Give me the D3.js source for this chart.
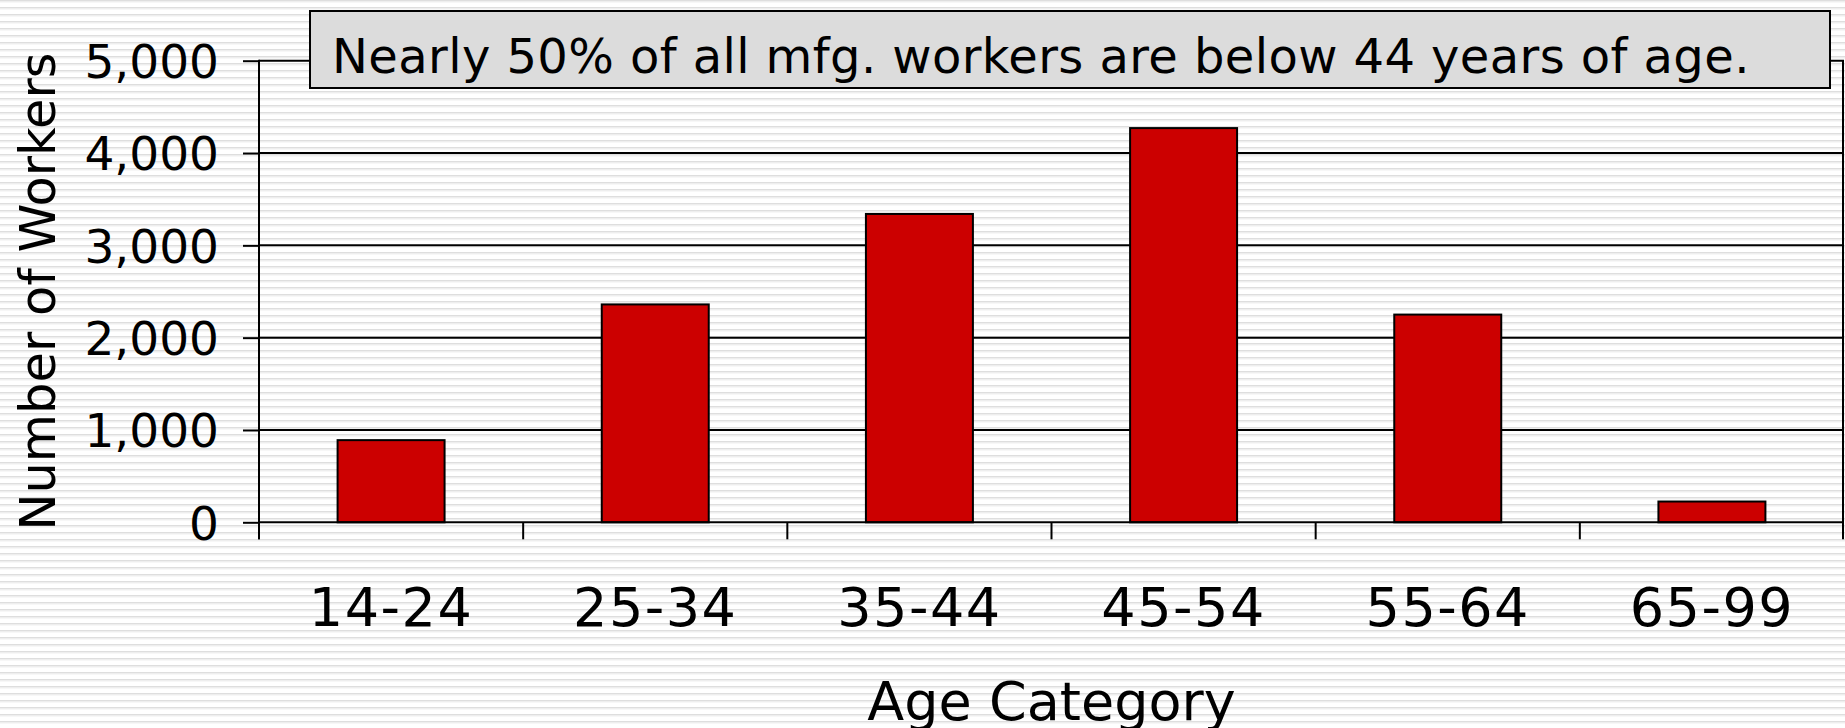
<!DOCTYPE html>
<html>
<head>
<meta charset="utf-8">
<script src="https://cdn.jsdelivr.net/npm/d3@7"></script>
<style>
  body { margin: 0; background: #fff; }
  svg { display: block; font-family: "DejaVu Sans", Verdana, sans-serif; }
</style>
</head>
<body>
<script>
// age groups and head counts
let categories = ["14-24", "25-34", "35-44", "45-54", "55-64", "65-99"];
let workers = [890, 2360, 3340, 4270, 2250, 225];
let yTicks = [0, 1000, 2000, 3000, 4000, 5000];
let note = "Nearly 50% of all mfg. workers are below 44 years of age.";

let W = 1845, H = 728;
let plotLeft = 259, plotRight = 1844, plotTop = 60.7, plotBottom = 522.3;

let svg = d3.select("body").append("svg")
    .attr("width", W)
    .attr("height", H);

// striped slide background
let pat = svg.append("defs").append("pattern")
    .attr("id", "stripes")
    .attr("patternUnits", "userSpaceOnUse")
    .attr("width", 8)
    .attr("height", 7);
pat.append("rect").attr("width", 8).attr("height", 7).attr("fill", "#ffffff");
pat.append("rect").attr("y", 0).attr("width", 8).attr("height", 1.5).attr("fill", "#dedede");
pat.append("rect").attr("y", 1.5).attr("width", 8).attr("height", 1).attr("fill", "#efefef");

svg.append("rect")
    .attr("width", W)
    .attr("height", H)
    .attr("fill", "url(#stripes)");

let x = d3.scaleBand().domain(categories).range([plotLeft, plotRight]);
let xBar = d3.scaleBand().domain(categories).range([plotLeft, plotRight])
    .paddingInner(0.595).paddingOuter(0.2975);
let y = d3.scaleLinear().domain([0, 5000]).range([plotBottom, plotTop]);

// gridlines
svg.append("g")
    .selectAll("line").data(yTicks.slice(1))
    .enter()
      .append("line")
      .attr("x1", plotLeft)
      .attr("x2", plotRight)
      .attr("y1", d => y(d))
      .attr("y2", d => y(d))
      .attr("stroke", "#000")
      .attr("stroke-width", 2);

// right border of plot
svg.append("line")
    .attr("x1", plotRight - 1).attr("x2", plotRight - 1)
    .attr("y1", y(5000)).attr("y2", y(0))
    .attr("stroke", "#000").attr("stroke-width", 2);

// bars
svg.append("g")
    .selectAll("rect").data(workers)
    .enter()
      .append("rect")
      .attr("x", (d, i) => xBar(categories[i]))
      .attr("width", xBar.bandwidth())
      .attr("y", d => y(d))
      .attr("height", d => y(0) - y(d))
      .attr("fill", "#cc0000")
      .attr("stroke", "#000")
      .attr("stroke-width", 2);

// y axis
let yAxis = svg.append("g")
    .attr("transform", `translate(${plotLeft},0)`)
    .call(d3.axisLeft(y).tickValues(yTicks).tickSize(16).tickPadding(24).tickFormat(d3.format(",")));
yAxis.select(".domain").remove();
yAxis.selectAll(".tick line").attr("stroke", "#000").attr("stroke-width", 2);
yAxis.selectAll(".tick text")
    .attr("font-size", 47)
    .attr("font-family", "DejaVu Sans")
    .attr("fill", "#000")
    .attr("dy", "0.36em");
svg.append("line")
    .attr("x1", plotLeft).attr("x2", plotLeft)
    .attr("y1", y(5000) - 1).attr("y2", y(0) + 17)
    .attr("stroke", "#000").attr("stroke-width", 2);

// x axis: baseline, boundary ticks, centred labels
svg.append("line")
    .attr("x1", plotLeft).attr("x2", plotRight)
    .attr("y1", y(0)).attr("y2", y(0))
    .attr("stroke", "#000").attr("stroke-width", 2);

let edges = categories.map(c => x(c)).concat([plotRight - 1]);
svg.append("g")
    .selectAll("line").data(edges)
    .enter()
      .append("line")
      .attr("x1", d => d)
      .attr("x2", d => d)
      .attr("y1", y(0))
      .attr("y2", y(0) + 17)
      .attr("stroke", "#000")
      .attr("stroke-width", 2);

svg.append("g")
    .selectAll("text").data(categories)
    .enter()
      .append("text")
      .attr("x", d => x(d) + x.bandwidth() / 2)
      .attr("y", 626)
      .attr("text-anchor", "middle")
      .attr("font-size", 54)
      .attr("letter-spacing", 1.5)
      .text(d => d);

// axis titles
svg.append("text")
    .attr("x", (plotLeft + plotRight) / 2)
    .attr("y", 720)
    .attr("text-anchor", "middle")
    .attr("font-size", 54)
    .text("Age Category");

svg.append("text")
    .attr("transform", `translate(55,${(plotTop + plotBottom) / 2}) rotate(-90)`)
    .attr("text-anchor", "middle")
    .attr("font-size", 49.5)
    .text("Number of Workers");

// annotation box
svg.append("rect")
    .attr("x", 310)
    .attr("y", 11)
    .attr("width", 1520)
    .attr("height", 77)
    .attr("fill", "#dcdcdc")
    .attr("stroke", "#000")
    .attr("stroke-width", 2);

svg.append("text")
    .attr("x", 332)
    .attr("y", 73)
    .attr("font-size", 48)
    .attr("letter-spacing", 0.4)
    .text(note);
</script>
</body>
</html>
